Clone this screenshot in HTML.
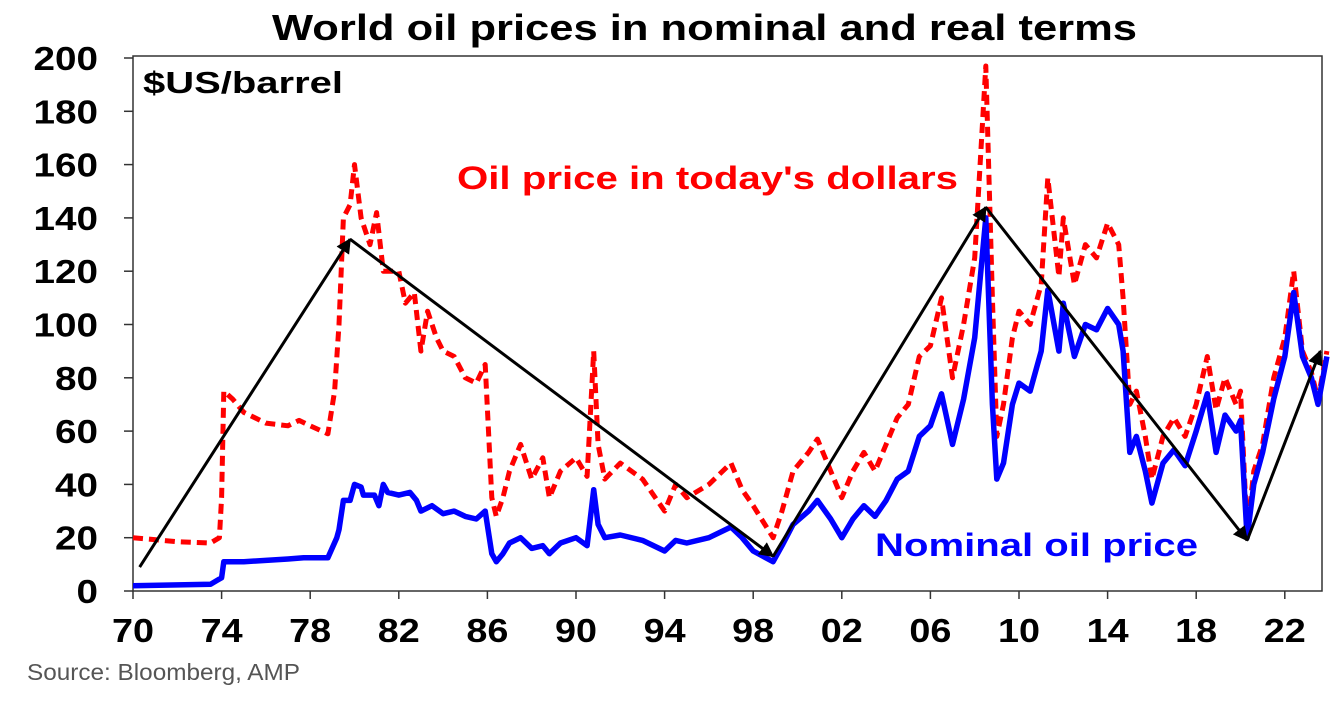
<!DOCTYPE html>
<html><head><meta charset="utf-8">
<style>
body{margin:0;background:#fff;}
svg{display:block;font-family:"Liberation Sans",Arial,sans-serif;}
</style></head>
<body>
<svg id="chart" width="1336" height="702" viewBox="0 0 1336 702" xmlns="http://www.w3.org/2000/svg">
<defs>
<marker id="arr" viewBox="0 0 10 10" refX="9" refY="5" markerWidth="5" markerHeight="5" orient="auto"><path d="M0,0 L10,5 L0,10 z" fill="#000"/></marker>
</defs>
<text x="272" y="40" textLength="865" lengthAdjust="spacingAndGlyphs" font-size="36" font-weight="bold">World oil prices in nominal and real terms</text>
<rect x="133" y="56" width="1189" height="535" fill="none" stroke="#333" stroke-width="1.5"/>
<g id="axes"></g>
<g id="series"></g>
<g id="arrows"></g>
<text x="143" y="93" textLength="200" lengthAdjust="spacingAndGlyphs" font-size="31" font-weight="bold">$US/barrel</text>
<text x="457" y="189" textLength="501" lengthAdjust="spacingAndGlyphs" font-size="32" font-weight="bold" fill="#ff0000">Oil price in today's dollars</text>
<text x="875" y="556" textLength="323" lengthAdjust="spacingAndGlyphs" font-size="32" font-weight="bold" fill="#0000ff">Nominal oil price</text>
<text x="27" y="680" textLength="273" lengthAdjust="spacingAndGlyphs" font-size="23" fill="#555">Source: Bloomberg, AMP</text>
</svg>
<script>
const yTicks=[0,20,40,60,80,100,120,140,160,180,200];
const xTickYears=[1970,1974,1978,1982,1986,1990,1994,1998,2002,2006,2010,2014,2018,2022];
const xTickLabels=["70","74","78","82","86","90","94","98","02","06","10","14","18","22"];
const nomYears=[1970,1973.5,1973.8,1974.0,1974.1,1975,1976,1977,1977.7,1978.8,1979.2,1979.3,1979.5,1979.8,1980.0,1980.3,1980.4,1980.9,1981.1,1981.3,1981.5,1982,1982.5,1982.8,1983,1983.5,1984,1984.5,1985,1985.5,1985.9,1986.2,1986.4,1986.7,1987,1987.5,1988,1988.5,1988.8,1989.3,1990,1990.5,1990.8,1991,1991.3,1992,1993,1994,1994.5,1995,1996,1997,1997.5,1998,1998.9,1999.3,1999.8,2000.5,2000.9,2001.5,2002,2002.5,2003,2003.5,2004,2004.5,2005,2005.5,2006,2006.5,2007,2007.5,2008,2008.5,2008.8,2009,2009.3,2009.7,2010,2010.5,2011,2011.3,2011.8,2012,2012.5,2013,2013.5,2014,2014.5,2014.7,2015,2015.3,2015.7,2016,2016.5,2017,2017.5,2018,2018.5,2018.9,2019.3,2019.8,2020.0,2020.3,2020.6,2021,2021.5,2022,2022.4,2022.8,2023.2,2023.5,2023.9];
const nomValues=[2,2.5,4,5,11,11,11.5,12,12.5,12.5,20,23,34,34,40,39,36,36,32,40,37,36,37,34,30,32,29,30,28,27,30,14,11,14,18,20,16,17,14,18,20,17,38,25,20,21,19,15,19,18,20,24,20,15,11,17,25,30,34,27,20,27,32,28,34,42,45,58,62,74,55,72,95,140,70,42,48,70,78,75,90,113,90,108,88,100,98,106,100,90,52,58,45,33,48,53,47,60,74,52,66,60,64,20,40,52,72,88,112,88,80,70,88];
const realYears=[1970,1972,1973.5,1973.9,1974.0,1974.1,1974.5,1975,1976,1977,1977.5,1978,1978.8,1979.1,1979.3,1979.5,1979.8,1980.0,1980.3,1980.7,1981.0,1981.3,1982,1982.3,1982.7,1983,1983.3,1983.7,1984,1984.5,1985,1985.5,1985.9,1986.2,1986.4,1986.7,1987,1987.5,1988,1988.5,1988.8,1989.3,1990,1990.5,1990.8,1991,1991.3,1992,1993,1994,1994.5,1995,1996,1997,1997.5,1998,1998.9,1999.3,1999.8,2000.5,2000.9,2001.5,2002,2002.5,2003,2003.5,2004,2004.5,2005,2005.5,2006,2006.5,2007,2007.5,2008,2008.5,2008.8,2009,2009.3,2009.7,2010,2010.5,2011,2011.3,2011.8,2012,2012.5,2013,2013.5,2014,2014.5,2014.7,2015,2015.3,2015.7,2016,2016.5,2017,2017.5,2018,2018.5,2018.9,2019.3,2019.8,2020.0,2020.3,2020.6,2021,2021.5,2022,2022.4,2022.8,2023.2,2023.5,2023.9];
const realValues=[20,18.5,18,20,35,75,72,67,63,62,64,62,59,75,100,140,145,160,140,130,142,120,120,108,112,90,105,95,90,88,80,78,85,35,28,35,45,55,42,50,35,45,50,43,90,55,42,48,42,30,40,35,40,48,38,32,20,30,45,52,57,45,35,45,52,45,55,65,70,88,92,110,80,100,125,197,110,58,70,95,105,100,115,155,118,140,115,130,125,138,130,110,70,75,58,42,58,65,58,70,88,68,80,70,75,22,45,55,80,95,120,90,82,72,90];
const arrowFrom=[[1970.3,9],[1979.8,132],[1998.9,13],[2008.5,144],[2020.3,19]];
const arrowTo=[[1979.8,132],[1998.9,13],[2008.5,144],[2020.3,19],[2023.6,90]];

const X=y=>133+(y-1970)*22.15;
const Y=v=>591-v*2.665;
const NS="http://www.w3.org/2000/svg";
function mk(tag,attrs,parent){const e=document.createElementNS(NS,tag);for(const k in attrs)e.setAttribute(k,attrs[k]);parent.appendChild(e);return e;}
const ax=document.getElementById('axes');
yTicks.forEach(t=>{
  const l=mk('line',{x1:124,x2:133,y1:Y(t),y2:Y(t),stroke:'#333','stroke-width':1.5},ax);
  
  
  const s=String(t);
  const tx=mk('text',{x:98-s.length*21.5,y:Y(t)+12,textLength:s.length*21.5,lengthAdjust:'spacingAndGlyphs','font-size':33,'font-weight':'bold'},ax);
  tx.textContent=s;
  
  
});
xTickYears.forEach((yr,i)=>{
  const l=mk('line',{x1:X(yr),x2:X(yr),y1:591,y2:599,stroke:'#333','stroke-width':1.5},ax);
  
  
  const tx=mk('text',{x:X(yr)-21,y:642,textLength:42,lengthAdjust:'spacingAndGlyphs','font-size':33,'font-weight':'bold'},ax);
  tx.textContent=xTickLabels[i];
  
  
});
const sg=document.getElementById('series');
const pts=(xs,vs)=>xs.map((x,i)=>X(x).toFixed(1)+','+Y(vs[i]).toFixed(1)).join(' ');
const real=mk('polyline',{points:pts(realYears,realValues),fill:'none',stroke:'#ff0000','stroke-width':5,'stroke-dasharray':'10,6','stroke-linejoin':'round'},sg);


const nom=mk('polyline',{points:pts(nomYears,nomValues),fill:'none',stroke:'#0000ff','stroke-width':5.5,'stroke-linejoin':'round'},sg);


const ag=document.getElementById('arrows');
arrowFrom.forEach((f,i)=>{
  const t=arrowTo[i];
  const a=mk('line',{x1:X(f[0]),y1:Y(f[1]),x2:X(t[0]),y2:Y(t[1]),stroke:'#000','stroke-width':3,'marker-end':'url(#arr)'},ag);
  
  
});
</script>
</body></html>
